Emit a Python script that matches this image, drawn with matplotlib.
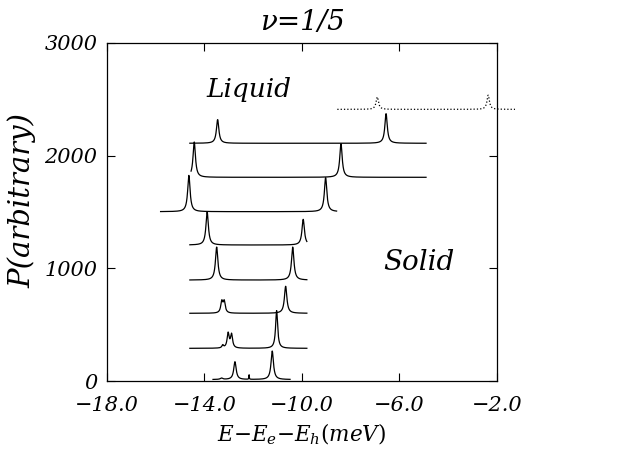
import numpy as np
import matplotlib
matplotlib.use("Agg")
import matplotlib.pyplot as plt

# ---- data (meV, arbitrary units) ----
# each trace: x-range, baseline, peak centres, peak heights above baseline
trace_xmin = [-13.65, -14.60, -14.60, -14.60, -14.60, -15.80, -14.55, -14.60, -8.55]
trace_xmax = [-10.49, -9.80, -9.80, -9.80, -9.80, -8.58, -4.91, -4.91, -1.26]
trace_base = [13, 290, 601, 896, 1207, 1503, 1808, 2110, 2411]
peak_pos = [
    [-13.30, -12.75, -12.17, -11.22],
    [-13.25, -13.03, -12.89, -11.04],
    [-13.29, -13.19, -10.67],
    [-13.50, -10.38],
    [-13.89, -9.95],
    [-14.64, -9.03],
    [-14.42, -8.40],
    [-13.46, -6.55],
    [-6.91, -2.36],
]
peak_amp = [
    [12, 158, 40, 253],
    [25, 130, 120, 335],
    [100, 100, 240],
    [293, 293],
    [293, 228],
    [322, 302],
    [313, 299],
    [210, 263],
    [110, 126],
]
peak_width = [
    [0.06, 0.06, 0.01, 0.06],
    [0.04, 0.05, 0.05, 0.05],
    [0.05, 0.05, 0.06],
    [0.06, 0.06],
    [0.06, 0.06],
    [0.06, 0.06],
    [0.06, 0.06],
    [0.06, 0.06],
    [0.06, 0.06],
]
trace_style = ["-"] * 8 + [":"]

xticks = [-18.0, -14.0, -10.0, -6.0, -2.0]
yticks = [0, 1000, 2000, 3000]

plt.rcParams["mathtext.fontset"] = "dejavuserif"
FONT = dict(family="DejaVu Serif", style="italic")

fig = plt.figure(figsize=(6.36, 4.55), dpi=100)
ax = fig.add_axes([0.1682, 0.1626, 0.6132, 0.7429])

for i in range(len(trace_base)):
    x = np.linspace(trace_xmin[i], trace_xmax[i], 2000)
    y = np.full_like(x, float(trace_base[i]))
    for c, a, w in zip(peak_pos[i], peak_amp[i], peak_width[i]):
        y += a * w**2 / ((x - c) ** 2 + w**2)
    ax.plot(x, y, color="black", lw=0.9, ls=trace_style[i],
            clip_on=(i != len(trace_base) - 1))

ax.set_xlim(-18, -2)
ax.set_ylim(0, 3000)
ax.set_xticks(xticks)
ax.set_xticklabels(["\u2212%.1f" % abs(v) for v in xticks], **FONT, fontsize=15)
ax.set_yticks(yticks)
ax.set_yticklabels([str(v) for v in yticks], **FONT, fontsize=15)
ax.tick_params(direction="in", top=True, right=True, length=6, width=0.8)
ax.tick_params(axis="x", pad=11)
ax.tick_params(axis="y", pad=7)
for s in ax.spines.values():
    s.set_linewidth(0.9)

ax.set_title("\u03bd=1/5", **FONT, fontsize=20, pad=9)
ax.set_xlabel(r"$E{-}E_e{-}E_h(meV)$", fontsize=15.5, labelpad=5)
ax.set_ylabel("P(arbitrary)", **FONT, fontsize=21)
ax.yaxis.set_label_coords(-0.18, 0.535)

ax.text(-12.17, 2583, "Liquid", **FONT, fontsize=19, ha="center", va="center")
ax.text(-5.2, 1056, "Solid", **FONT, fontsize=20, ha="center", va="center")

fig.savefig("out.png", dpi=100)
